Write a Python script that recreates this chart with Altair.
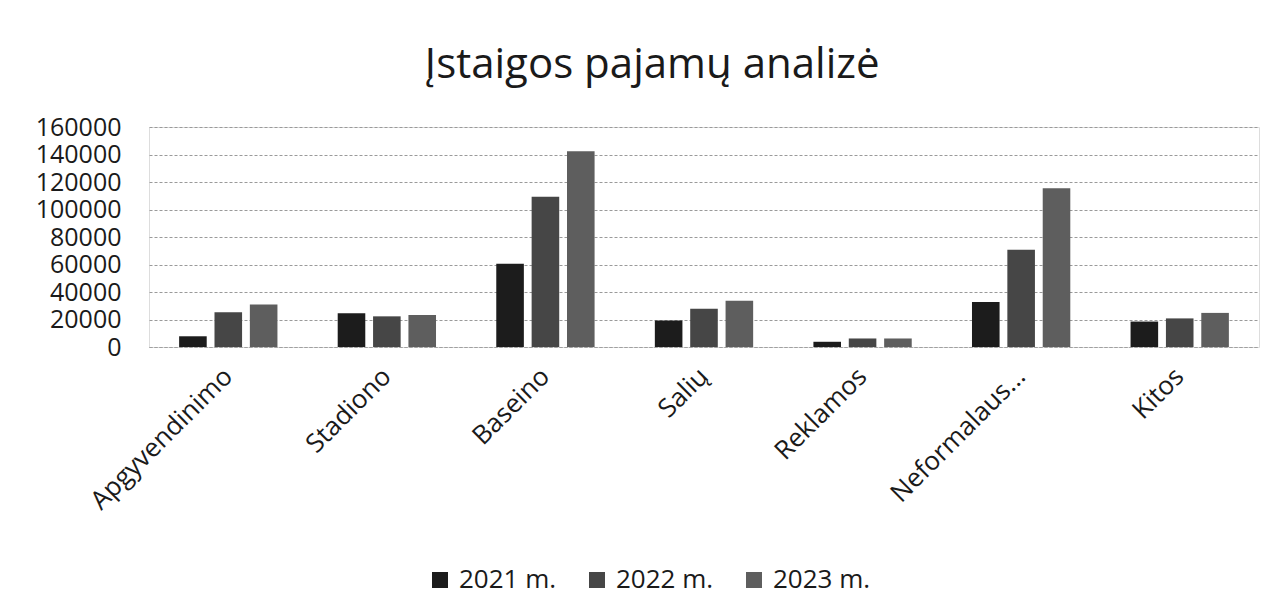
import altair as alt
import pandas as pd

categories = ["Apgyvendinimo", "Stadiono", "Baseino", "Salių", "Reklamos", "Neformalaus...", "Kitos"]
years = ["2021 m.", "2022 m.", "2023 m."]
v2021 = [7800, 24500, 60500, 19200, 3800, 32700, 18500]
v2022 = [25200, 22300, 109300, 27800, 6200, 70700, 20800]
v2023 = [31000, 23300, 142300, 33600, 6200, 115400, 24800]
colors = ["#1c1c1c", "#464646", "#5e5e5e"]

rows = []
for series, vals in zip(years, [v2021, v2022, v2023]):
    for c, v in zip(categories, vals):
        rows.append({"Kategorija": c, "Metai": series, "Pajamos": v})
df = pd.DataFrame(rows)

FONT = "Open Sans"

chart = alt.Chart(df).mark_bar().encode(
    x=alt.X("Kategorija:N", sort=categories, title=None,
            scale=alt.Scale(paddingInner=0.38, paddingOuter=0.19),
            axis=alt.Axis(labelAngle=-45, labelAlign="right", labelBaseline="middle",
                          labelPadding=25, labelLimit=0, ticks=False, domain=True,
                          domainColor="#a0a0a0", domainDash=[3, 2],
                          labelFont=FONT, labelFontSize=26, labelColor="#1a1a1a",
                          grid=False)),
    xOffset=alt.XOffset("Metai:N", sort=years,
                        scale=alt.Scale(paddingInner=0.22, paddingOuter=0)),
    y=alt.Y("Pajamos:Q", title=None,
            scale=alt.Scale(domain=[0, 160000], nice=False),
            axis=alt.Axis(values=list(range(0, 160001, 20000)), format="d",
                          labelFont=FONT, labelFontSize=25, labelColor="#1a1a1a",
                          labelPadding=28, ticks=False, domain=False,
                          grid=True, gridColor="#9a9a9a", gridDash=[3, 2], gridWidth=1)),
    color=alt.Color("Metai:N", sort=years,
                    scale=alt.Scale(domain=years, range=colors),
                    legend=alt.Legend(title=None, orient="none", direction="horizontal",
                                      legendX=278, legendY=440,
                                      symbolType="square", symbolSize=256,
                                      symbolStrokeWidth=0, labelFont=FONT,
                                      labelFontSize=26, labelColor="#1a1a1a",
                                      labelOffset=6, columnPadding=27)),
).properties(
    width=1110,
    height=220,
    title=alt.TitleParams("Įstaigos pajamų analizė", font=FONT, fontSize=42,
                          fontWeight="normal", color="#1a1a1a", anchor="middle",
                          dx=-52, offset=28),
    autosize=alt.AutoSizeParams(type="none"),
    padding={"left": 141, "top": 119, "right": 13, "bottom": 254},
).configure_view(stroke=None).configure(background="white")

chart.save("out.html", embed_options={"renderer": "svg", "actions": False})
